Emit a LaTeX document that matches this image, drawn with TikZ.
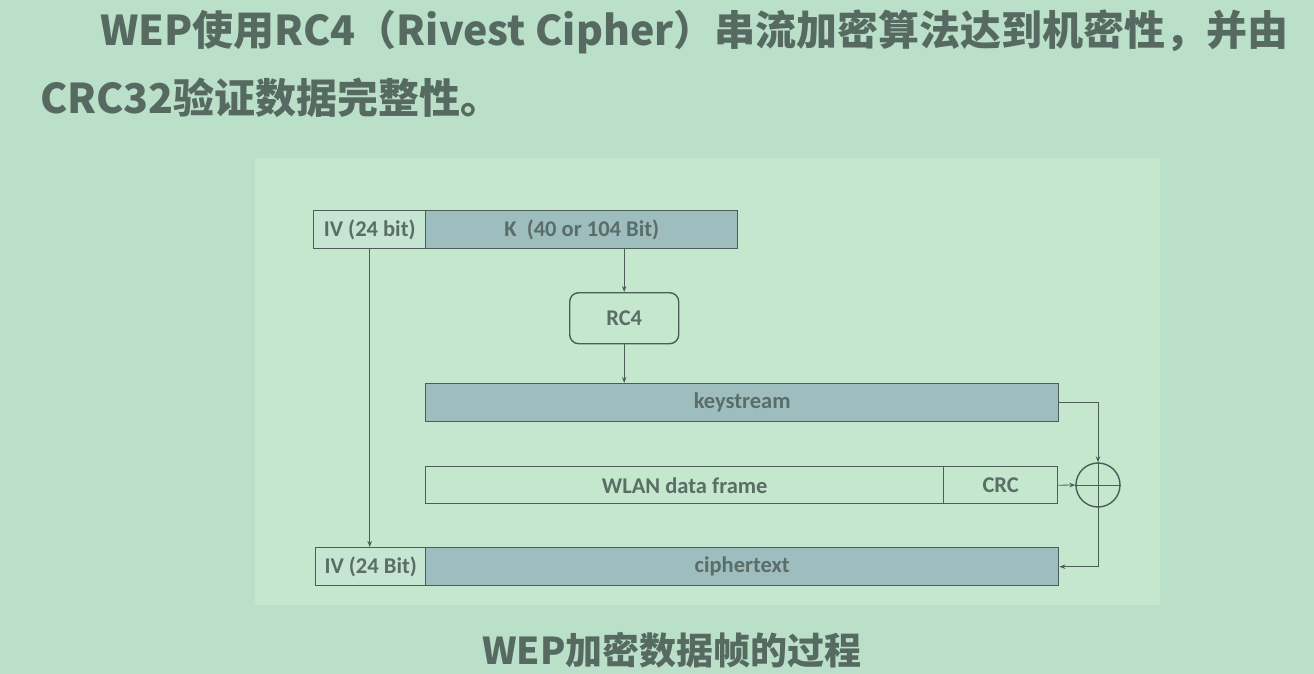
\documentclass[tikz,border=0pt]{standalone}
\usepackage{fontspec}
\setmainfont{Carlito}
\newfontfamily\cjk{Noto Sans CJK SC}
\usetikzlibrary{arrows.meta}
\definecolor{bgc}{HTML}{BBE0C9}
\definecolor{panelc}{HTML}{C4E7CE}
\definecolor{barc}{HTML}{9DBDBF}
\definecolor{lightc}{HTML}{C6E5D2}
\definecolor{linec}{HTML}{4C5D57}
\definecolor{txtc}{HTML}{5A6D67}
\definecolor{titlec}{HTML}{566A62}
\tikzset{
  field/.style={draw=linec, line width=1.4pt, anchor=north west, inner sep=0pt,
    font=\fontsize{22.5}{24}\selectfont\bfseries, text=txtc},
  darkfield/.style={field, fill=barc},
  lightfield/.style={field, fill=lightc},
  plainfield/.style={field},
  conn/.style={draw=linec, line width=1.1pt},
  thin/.style={draw=linec, line width=0.8pt},
  arr/.style={-{Stealth[length=6pt,width=4.5pt]}},
  heading/.style={anchor=base west, inner sep=0pt, text=titlec,
    font=\cjk\fontsize{41}{43}\selectfont\bfseries}
}
\begin{document}
\begin{tikzpicture}[x=1pt,y=-1pt]
% page and the lighter panel behind the figure
\fill[bgc] (0,0) rectangle (1314,674);
\fill[panelc] (255,158) rectangle (1160,605);
\useasboundingbox (0,0) rectangle (1314,674);

% heading text
\node[heading] (t1) at (100,46) {WEP使用RC4（Rivest Cipher）串流加密算法达到机密性，并由};
\node[heading] (t2) at (40,114) {CRC32验证数据完整性。};

% key material
\node[lightfield, minimum width=112pt, minimum height=38pt] (iv1) at (313,210) {IV (24 bit)};
\node[darkfield, minimum width=312pt, minimum height=38pt] (k) at (425,210) {K~~(40 or 104 Bit)};

% cipher block
\node[plainfield, rounded corners=9pt, minimum width=109pt, minimum height=51pt] (rc4) at (569,292) {RC4};

% keystream
\node[darkfield, minimum width=633pt, minimum height=38pt] (ks) at (425,383) {keystream};

% plaintext frame
\node[plainfield, minimum width=518pt, minimum height=37pt] (wlan) at (425,466) {WLAN data frame};
\node[plainfield, minimum width=114pt, minimum height=37pt] (crc) at (943,466) {CRC};

% XOR
\node[draw=linec, line width=1.4pt, circle, minimum size=44pt, inner sep=0pt] (xor) at (1098,485) {};
\draw[thin] (xor.west) -- (xor.east);
\draw[thin] (xor.north) -- (xor.south);

% output frame
\node[lightfield, minimum width=110pt, minimum height=38pt] (iv2) at (315,547) {IV (24 Bit)};
\node[darkfield, minimum width=633pt, minimum height=38pt] (ct) at (425,547) {ciphertext};

% connectors
\draw[conn, arr] (rc4.north |- k.south) -- (rc4.north);
\draw[conn, arr] (rc4.south) -- (rc4.south |- ks.north);
\draw[conn, arr] (iv1.south) -- (iv1.south |- iv2.north);
\draw[thin, arr] (ks.east) -| (xor.north);
\draw[thin, arr] (crc.east) -- (xor.west);
\draw[thin, arr] (xor.south) |- (ct.east);

% caption
\node[anchor=base, inner sep=0pt, text=titlec, font=\cjk\fontsize{37}{39}\selectfont\bfseries] (cap) at (672,664) {WEP加密数据帧的过程};
\end{tikzpicture}
\end{document}
